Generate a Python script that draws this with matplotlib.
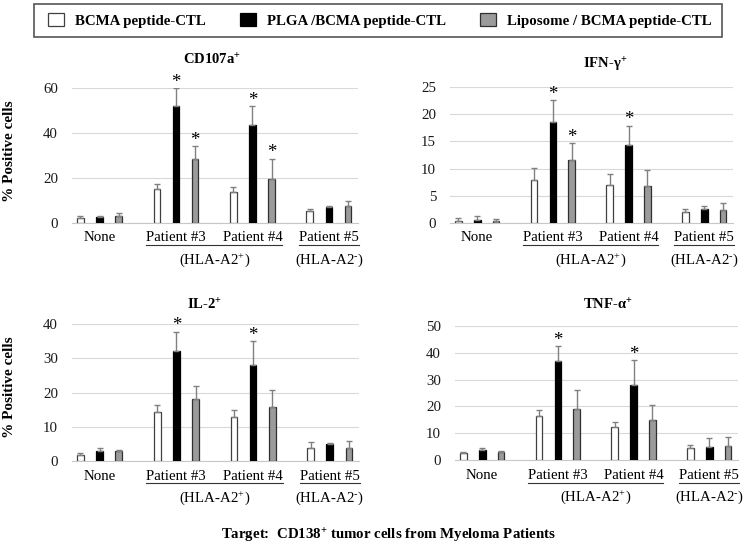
import matplotlib
matplotlib.use('Agg')
import matplotlib.pyplot as plt
import numpy as np
from matplotlib.lines import Line2D
from matplotlib.patches import Patch, Rectangle

plt.rcParams['font.family'] = ['Liberation Serif', 'DejaVu Serif']
plt.rcParams['mathtext.fontset'] = 'custom'
plt.rcParams['mathtext.rm'] = 'Liberation Serif'
plt.rcParams['mathtext.bf'] = 'Liberation Serif:bold'
plt.rcParams['mathtext.it'] = 'Liberation Serif:italic'

# ---------------- data ----------------
groups = ['None', 'Patient #3', 'Patient #4', 'Patient #5']
series_names = ['BCMA peptide-CTL', 'PLGA /BCMA peptide-CTL', 'Liposome / BCMA peptide-CTL']

cd107a_bcma = [2.3, 15.0, 13.6, 5.0]
cd107a_bcma_err = [0.7, 2.4, 2.1, 1.0]
cd107a_plga = [2.5, 51.8, 43.3, 7.2]
cd107a_plga_err = [0.5, 8.0, 8.4, 0.4]
cd107a_lipo = [3.2, 28.3, 19.5, 7.6]
cd107a_lipo_err = [1.3, 5.6, 9.0, 2.2]

ifng_bcma = [0.4, 7.9, 7.0, 1.9]
ifng_bcma_err = [0.5, 2.2, 1.9, 0.6]
ifng_plga = [0.5, 18.6, 14.4, 2.6]
ifng_plga_err = [0.7, 4.0, 3.5, 0.5]
ifng_lipo = [0.35, 11.5, 6.7, 2.4]
ifng_lipo_err = [0.35, 3.2, 3.0, 1.3]

il2_bcma = [1.7, 14.3, 13.0, 3.8]
il2_bcma_err = [0.7, 2.2, 2.0, 1.8]
il2_plga = [3.0, 32.3, 28.0, 5.0]
il2_plga_err = [0.7, 5.5, 7.0, 0.4]
il2_lipo = [2.8, 18.0, 15.8, 3.9]
il2_lipo_err = [0.3, 4.0, 5.0, 1.9]

tnfa_bcma = [2.6, 16.4, 12.5, 4.7]
tnfa_bcma_err = [0.6, 2.2, 1.9, 0.8]
tnfa_plga = [4.0, 36.8, 28.0, 4.9]
tnfa_plga_err = [0.5, 5.6, 9.2, 3.5]
tnfa_lipo = [3.2, 19.1, 15.0, 5.3]
tnfa_lipo_err = [0.4, 7.1, 5.7, 3.4]

# significance stars: (series index, group index)
cd107a_stars = [(1, 1), (2, 1), (1, 2), (2, 2)]
ifng_stars = [(1, 1), (2, 1), (1, 2)]
il2_stars = [(1, 1), (1, 2)]
tnfa_stars = [(1, 1), (1, 2)]

cd107a_ticks = [0, 20, 40, 60]
ifng_ticks = [0, 5, 10, 15, 20, 25]
il2_ticks = [0, 10, 20, 30, 40]
tnfa_ticks = [0, 10, 20, 30, 40, 50]

# ---------------- styling ----------------
W, H = 750, 546
fig = plt.figure(figsize=(7.5, 5.46), dpi=100)

fills = ['white', 'black', '#9b9b9b']
edges = ['#404040', 'black', '#303030']
offsets = [-0.25, 0.0, 0.25]
bar_w = 0.088

panels = [
    dict(title=r'CD107a$^{\mathbf{+}}$', box=(72, 358, 87.7, 222.7), tx=0.49, ty=20.0,
         vals=[cd107a_bcma, cd107a_plga, cd107a_lipo],
         errs=[cd107a_bcma_err, cd107a_plga_err, cd107a_lipo_err],
         stars=cd107a_stars, ticks=cd107a_ticks),
    dict(title=r'IFN-γ$^{\mathbf{+}}$', box=(450, 733, 87.3, 222.7), tx=0.55, ty=15.8,
         vals=[ifng_bcma, ifng_plga, ifng_lipo],
         errs=[ifng_bcma_err, ifng_plga_err, ifng_lipo_err],
         stars=ifng_stars, ticks=ifng_ticks),
    dict(title=r'IL-2$^{\mathbf{+}}$', box=(72, 359, 324.3, 461), tx=0.46, ty=13.7,
         vals=[il2_bcma, il2_plga, il2_lipo],
         errs=[il2_bcma_err, il2_plga_err, il2_lipo_err],
         stars=il2_stars, ticks=il2_ticks),
    dict(title=r'TNF-α$^{\mathbf{+}}$', box=(455, 738, 325.7, 460.3), tx=0.54, ty=14.9,
         vals=[tnfa_bcma, tnfa_plga, tnfa_lipo],
         errs=[tnfa_bcma_err, tnfa_plga_err, tnfa_lipo_err],
         stars=tnfa_stars, ticks=tnfa_ticks),
]

axes_info = []
for p in panels:
    l, r, t, b = p['box']
    ax = fig.add_axes([l / W, 1 - b / H, (r - l) / W, (b - t) / H])
    x = np.arange(len(groups))
    for k in range(3):
        vals = np.array(p['vals'][k])
        errs = np.array(p['errs'][k])
        ax.bar(x + offsets[k], vals, width=bar_w, color=fills[k], edgecolor=edges[k],
               linewidth=0.9, zorder=3,
               yerr=[np.zeros_like(errs), errs],
               error_kw=dict(ecolor='#808080', elinewidth=1.0, capsize=2.4, capthick=1.0, zorder=4))
    for (k, g) in p['stars']:
        top = p['vals'][k][g] + p['errs'][k][g]
        ax.annotate('*', xy=(g + offsets[k], top), xytext=(0, 1.0), textcoords='offset points',
                    ha='center', va='baseline', fontsize=13.5, color='black')
    ax.set_xlim(-0.36, 3.38)
    ax.set_ylim(p['ticks'][0], p['ticks'][-1])
    ax.set_yticks(p['ticks'])
    ax.set_xticks([])
    ax.yaxis.grid(True, color='#d9d9d9', linewidth=0.8)
    ax.set_axisbelow(True)
    for s in ['left', 'right', 'top']:
        ax.spines[s].set_visible(False)
    ax.spines['bottom'].set_color('#c8c8c8')
    ax.spines['bottom'].set_linewidth(0.8)
    ax.tick_params(axis='y', length=0, pad=10, labelsize=10.7, labelcolor='#1a1a1a')
    ax.annotate(p['title'], xy=(p['tx'], 1), xycoords='axes fraction', xytext=(0, p['ty']),
                textcoords='offset points', ha='center', va='center',
                fontsize=10.5, fontweight='bold')
    labs = []
    for i, g in enumerate(groups):
        t_ = ax.annotate(g, xy=(i, 0), xycoords=('data', 'axes fraction'), xytext=(0, -11),
                         textcoords='offset points', ha='center', va='center', fontsize=10.7)
        labs.append(t_)
    axes_info.append((ax, labs, b))

for yc in [151, 387.5]:
    fig.text(10 / W, 1 - yc / H, '% Positive cells', rotation=90, ha='center', va='center',
             fontsize=11, fontweight='bold')

fig.text(388 / W, 1 - 535.7 / H, r'Target:  CD138$^{\mathbf{+}}$ tumor cells from Myeloma Patients',
         ha='center', va='center', fontsize=10.7, fontweight='bold')

# legend: frame drawn separately for exact padding
fig.add_artist(Rectangle((34 / W, 1 - 37 / H), 688 / W, 33 / H, transform=fig.transFigure,
                         facecolor='white', edgecolor='#555555', linewidth=1.2, zorder=0))
handles = [Patch(facecolor=fills[k], edgecolor=edges[k], linewidth=0.9) for k in range(3)]
leg = fig.legend(handles, series_names, loc='center',
                 bbox_to_anchor=(48 / W, 1 - 37 / H, 664 / W, 33 / H), mode='expand', ncol=3,
                 frameon=False, prop={'weight': 'bold', 'size': 10.7},
                 handlelength=1.1, handleheight=0.95, handletextpad=0.75,
                 borderaxespad=0, borderpad=0.0)

# underline patient labels and add HLA annotations
fig.canvas.draw()
renderer = fig.canvas.get_renderer()
for ax, labs, b in axes_info:
    e3 = labs[1].get_window_extent(renderer)
    e4 = labs[2].get_window_extent(renderer)
    e5 = labs[3].get_window_extent(renderer)
    y_line = H - (b + 22.3)
    for x0, x1, txt in [(e3.x0, e4.x1, r'(HLA-A2$^{+}$)'), (e5.x0, e5.x1, r'(HLA-A2$^{\text{-}}$)')]:
        fig.add_artist(Line2D([x0 / W, x1 / W], [y_line / H, y_line / H],
                              transform=fig.transFigure, color='#333333', linewidth=0.8))
        fig.text((x0 + x1) / 2 / W, 1 - (b + 37.3) / H, txt, ha='center', va='center',
                 fontsize=10.7)

fig.savefig('out.png', dpi=100)
